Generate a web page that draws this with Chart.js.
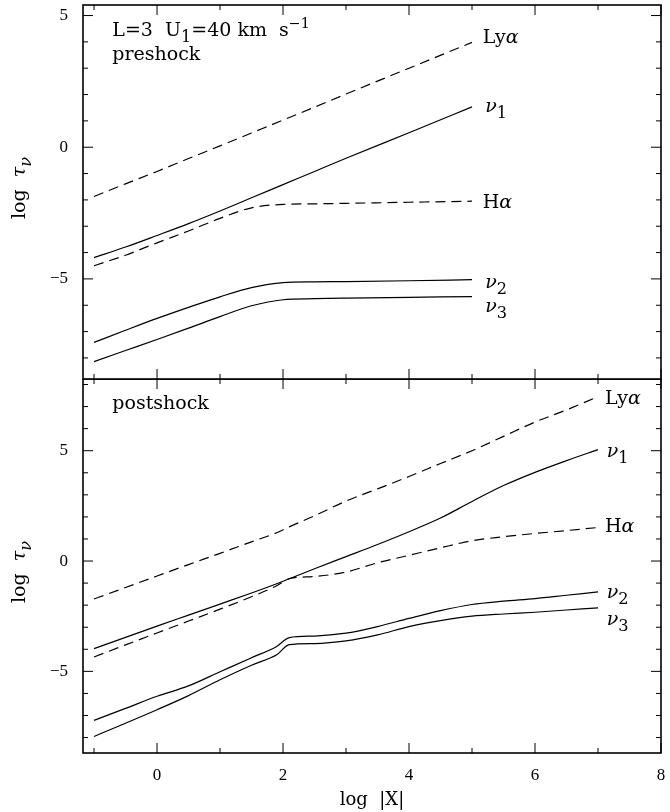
<!DOCTYPE html>
<html>
<head>
<meta charset="utf-8">
<script src="https://cdn.jsdelivr.net/npm/chart.js@4.4.0/dist/chart.umd.min.js"></script>
<style>
body { margin: 0; background: #fff; }
#wrap { position: relative; width: 670px; height: 812px; }
canvas { position: absolute; left: 0; }
#c1 { top: 0; }
#c2 { top: 379px; }
</style>
</head>
<body>
<div id="wrap">
<canvas id="c1" width="670" height="380"></canvas>
<canvas id="c2" width="670" height="433"></canvas>
</div>
<script>
// preshock panel (top)
const xPre = [-1, -0.5, 0, 0.5, 1, 1.5, 2, 2.5, 3, 4, 5];
const preLya = [-1.87, -1.39, -0.92, -0.43, 0.05, 0.54, 1.03, 1.52, 2.02, 3.0, 3.98];
const preNu1 = [-4.19, -3.79, -3.35, -2.9, -2.42, -1.92, -1.42, -0.92, -0.42, 0.55, 1.53];
const preHa  = [-4.5, -4.1, -3.63, -3.18, -2.7, -2.3, -2.17, -2.15, -2.13, -2.09, -2.05];
const preNu2 = [-7.41, -6.95, -6.5, -6.08, -5.68, -5.33, -5.14, -5.11, -5.1, -5.07, -5.03];
const preNu3 = [-8.14, -7.72, -7.3, -6.87, -6.43, -6.02, -5.79, -5.75, -5.73, -5.7, -5.67];

// postshock panel (bottom)
const xPost = [-1, -0.5, 0, 0.5, 1, 1.5, 1.9, 2.1, 2.5, 3, 3.5, 4, 4.5, 5, 5.5, 6, 6.5, 7];
const postLya = [-1.72, -1.2, -0.68, -0.16, 0.35, 0.87, 1.28, 1.55, 2.05, 2.72, 3.27, 3.83, 4.42, 5.0, 5.65, 6.3, 6.85, 7.45];
const postNu1 = [-3.97, -3.46, -2.95, -2.45, -1.95, -1.45, -1.03, -0.8, -0.35, 0.2, 0.75, 1.33, 1.95, 2.7, 3.42, 4.02, 4.55, 5.05];
const postHa  = [-4.35, -3.8, -3.26, -2.72, -2.18, -1.62, -1.12, -0.8, -0.7, -0.5, -0.08, 0.26, 0.6, 0.92, 1.1, 1.25, 1.38, 1.52];
const postNu2 = [-7.22, -6.68, -6.13, -5.66, -5.02, -4.38, -3.87, -3.47, -3.4, -3.27, -2.97, -2.6, -2.25, -1.97, -1.82, -1.7, -1.55, -1.4];
const postNu3 = [-7.95, -7.35, -6.74, -6.1, -5.38, -4.72, -4.25, -3.79, -3.74, -3.62, -3.35, -2.97, -2.7, -2.5, -2.4, -2.32, -2.22, -2.12];

const xTickVals = [0, 2, 4, 6, 8];
const yTickVals = [-5, 0, 5];

const serif = '"Liberation Serif", "Times New Roman", serif';
const labelSerif = '"DejaVu Serif", serif';

function pts(xs, ys) {
    return xs.map((x, i) => ({ x: x, y: ys[i] }));
}

function curve(label, xs, ys, dashed) {
    return {
        label: label,
        data: pts(xs, ys),
        borderColor: '#000',
        borderWidth: 1.2,
        borderDash: dashed ? [10, 6] : [],
        pointRadius: 0,
        cubicInterpolationMode: 'monotone',
        fill: false
    };
}

// texte avec indices / exposants
function partFont(style, size) {
    let s = size;
    if (style === 'sub' || style === 'isub') s = size * 0.85;
    if (style === 'sup') s = size * 0.75;
    const it = (style === 'i' || style === 'isub') ? 'italic ' : '';
    return it + s + 'px ' + labelSerif;
}

function drawParts(ctx, x, y, parts, size, measureOnly) {
    let cx = x;
    parts.forEach(([txt, style]) => {
        ctx.font = partFont(style, size);
        let dy = 0;
        if (style === 'sub' || style === 'isub') dy = 6;
        if (style === 'sup') dy = -8;
        if (!measureOnly) ctx.fillText(txt, cx, y + dy);
        cx += ctx.measureText(txt).width;
    });
    return cx - x;
}

const framePlugin = {
    id: 'frame',
    afterDraw(chart, args, opts) {
        const { ctx, chartArea: a, scales } = chart;
        const xs = scales.x, ys = scales.y;
        ctx.save();
        ctx.strokeStyle = '#000';
        ctx.lineWidth = 1;
        ctx.beginPath();
        for (let v = Math.ceil(xs.min); v <= xs.max + 1e-6; v++) {
            const px = xs.getPixelForValue(v);
            const len = v % 2 === 0 ? 10 : 5;
            ctx.moveTo(px, a.bottom); ctx.lineTo(px, a.bottom - len);
            ctx.moveTo(px, a.top); ctx.lineTo(px, a.top + len);
        }
        for (let v = Math.ceil(ys.min); v <= ys.max; v++) {
            const py = ys.getPixelForValue(v);
            const len = v % 5 === 0 ? 10 : 5;
            ctx.moveTo(a.left, py); ctx.lineTo(a.left + len, py);
            ctx.moveTo(a.right, py); ctx.lineTo(a.right - len, py);
        }
        ctx.stroke();
        ctx.lineWidth = 1.6;
        ctx.strokeRect(a.left, a.top, a.right - a.left, a.bottom - a.top);

        ctx.fillStyle = '#000';
        ctx.textBaseline = 'alphabetic';
        ctx.textAlign = 'left';
        (opts.texts || []).forEach(t => {
            drawParts(ctx, xs.getPixelForValue(t.x), ys.getPixelForValue(t.y), t.parts, 19);
        });

        // titre axe y
        const tParts = [['log  ', 'r'], ['τ', 'i'], ['ν', 'isub']];
        const w = drawParts(ctx, 0, 0, tParts, 19, true);
        ctx.translate(25, (a.top + a.bottom) / 2 + opts.titleDy);
        ctx.rotate(-Math.PI / 2);
        drawParts(ctx, -w / 2, 0, tParts, 19);
        ctx.restore();
    }
};

function yAxis(min, max) {
    return {
        type: 'linear',
        position: 'left',
        min: min,
        max: max,
        grid: { display: false, drawTicks: false },
        border: { display: false },
        afterBuildTicks: (s) => { s.ticks = yTickVals.map(v => ({ value: v })); },
        afterFit: (s) => { s.width = 83; s.paddingTop = 0; s.paddingBottom = 0; },
        ticks: {
            padding: 15,
            color: '#000',
            font: { family: serif, size: 17 },
            callback: (v) => v < 0 ? '\u2212' + Math.abs(v) : '' + v
        }
    };
}

function xAxis(show) {
    return {
        type: 'linear',
        position: 'bottom',
        min: -1.175,
        max: 8.0,
        display: show,
        grid: { display: false, drawTicks: false },
        border: { display: false },
        afterBuildTicks: (s) => { s.ticks = xTickVals.map(v => ({ value: v })); },
        afterFit: (s) => { s.height = show ? 59 : 0; s.paddingLeft = 0; s.paddingRight = 0; },
        ticks: {
            padding: 12,
            color: '#000',
            maxRotation: 0,
            font: { family: serif, size: 17 }
        },
        title: {
            display: true,
            text: 'log  |X|',
            color: '#000',
            font: { family: labelSerif, size: 18 },
            padding: { top: 0, bottom: 1 }
        }
    };
}

const baseOpts = {
    responsive: false,
    animation: false,
    events: [],
    plugins: { legend: { display: false }, tooltip: { enabled: false } }
};

new Chart(document.getElementById('c1'), {
    type: 'line',
    data: {
        datasets: [
            curve('Lyα', xPre, preLya, true),
            curve('ν1', xPre, preNu1, false),
            curve('Hα', xPre, preHa, true),
            curve('ν2', xPre, preNu2, false),
            curve('ν3', xPre, preNu3, false)
        ]
    },
    options: Object.assign({}, baseOpts, {
        layout: { padding: { top: 5, bottom: 1, left: 0, right: 9 } },
        scales: { x: xAxis(false), y: yAxis(-8.8, 5.4) },
        plugins: Object.assign({}, baseOpts.plugins, {
            frame: {
                titleDy: -4,
                texts: [
                    { x: -0.71, y: 4.24, parts: [['L=3  U', 'r'], ['1', 'sub'], ['=40 km  s', 'r'], ['\u22121', 'sup']] },
                    { x: -0.71, y: 3.33, parts: [['preshock', 'r']] },
                    { x: 5.17, y: 3.94, parts: [['Ly', 'r'], ['α', 'i']] },
                    { x: 5.21, y: 1.32, parts: [['ν', 'i'], ['1', 'sub']] },
                    { x: 5.17, y: -2.29, parts: [['H', 'r'], ['α', 'i']] },
                    { x: 5.21, y: -5.33, parts: [['ν', 'i'], ['2', 'sub']] },
                    { x: 5.21, y: -6.24, parts: [['ν', 'i'], ['3', 'sub']] }
                ]
            }
        })
    }),
    plugins: [framePlugin]
});

new Chart(document.getElementById('c2'), {
    type: 'line',
    data: {
        datasets: [
            curve('Lyα', xPost, postLya, true),
            curve('ν1', xPost, postNu1, false),
            curve('Hα', xPost, postHa, true),
            curve('ν2', xPost, postNu2, false),
            curve('ν3', xPost, postNu3, false)
        ]
    },
    options: Object.assign({}, baseOpts, {
        layout: { padding: { top: 0, bottom: 0, left: 0, right: 9 } },
        scales: { x: xAxis(true), y: yAxis(-8.7, 8.25) },
        plugins: Object.assign({}, baseOpts.plugins, {
            frame: {
                titleDy: 6,
                texts: [
                    { x: -0.71, y: 6.9, parts: [['postshock', 'r']] },
                    { x: 7.11, y: 7.13, parts: [['Ly', 'r'], ['α', 'i']] },
                    { x: 7.14, y: 4.73, parts: [['ν', 'i'], ['1', 'sub']] },
                    { x: 7.11, y: 1.33, parts: [['H', 'r'], ['α', 'i']] },
                    { x: 7.14, y: -1.66, parts: [['ν', 'i'], ['2', 'sub']] },
                    { x: 7.14, y: -2.89, parts: [['ν', 'i'], ['3', 'sub']] }
                ]
            }
        })
    }),
    plugins: [framePlugin]
});
</script>
</body>
</html>
